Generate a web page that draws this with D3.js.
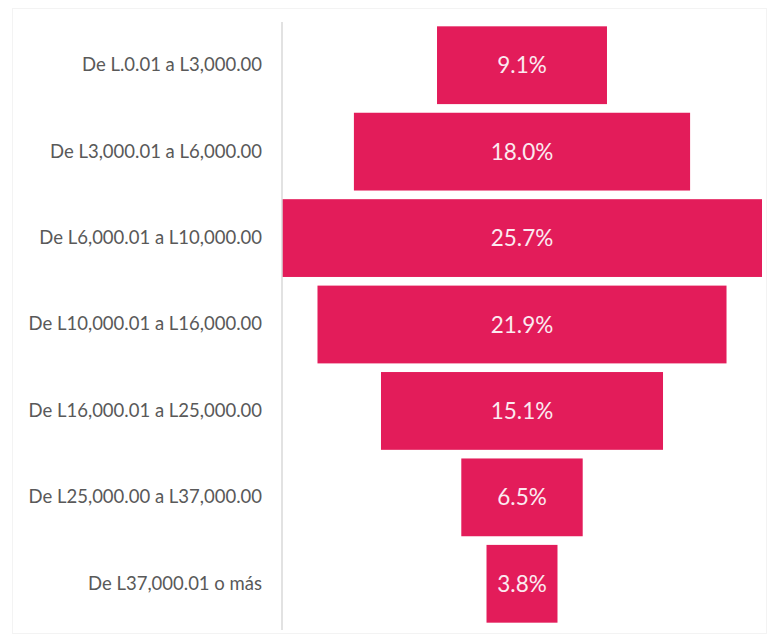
<!DOCTYPE html>
<html>
<head>
<meta charset="utf-8">
<script src="https://cdn.jsdelivr.net/npm/d3@7"></script>
<style>
  body { margin: 0; background: #fff; }
  svg { display: block; }
</style>
</head>
<body>
<div class="funnel"></div>
<script>
// categories and values
const categories = [
  "De L.0.01 a L3,000.00",
  "De L3,000.01 a L6,000.00",
  "De L6,000.01 a L10,000.00",
  "De L10,000.01 a L16,000.00",
  "De L16,000.01 a L25,000.00",
  "De L25,000.00 a L37,000.00",
  "De L37,000.01 o más"
];
const values = [9.1, 18.0, 25.7, 21.9, 15.1, 6.5, 3.8];

const width = 768,
  height = 639;
let margin = { top: 22, right: 6, bottom: 12, left: 282 };

const data = categories.map((c, i) => ({ cat: c, val: values[i] }));

let svg = d3
  .select(".funnel")
  .append("svg")
  .attr("width", width)
  .attr("height", height);

// faint frame round the chart area
svg
  .append("rect")
  .attr("x", 12.5)
  .attr("y", 8.5)
  .attr("width", width - 14)
  .attr("height", height - 14)
  .attr("fill", "none")
  .attr("stroke", "#f3f3f3");

let y = d3
  .scaleBand()
  .domain(categories)
  .range([margin.top, height - margin.bottom])
  .paddingInner(0.1)
  .paddingOuter(0.05);

const maxVal = d3.max(values);
// centered funnel: -max/2 .. max/2
let x = d3
  .scaleLinear()
  .domain([-maxVal / 2, maxVal / 2])
  .range([margin.left, width - margin.right]);

// ---- BARS ----
svg
  .selectAll(".bar")
  .data(data)
  .enter()
  .append("rect")
  .attr("class", "bar")
  .attr("x", (d) => x(-d.val / 2))
  .attr("y", (d) => y(d.cat))
  .attr("width", (d) => x(d.val / 2) - x(-d.val / 2))
  .attr("height", y.bandwidth())
  .attr("fill", "#e31c5a");

svg
  .selectAll(".val")
  .data(data)
  .enter()
  .append("text")
  .attr("class", "val")
  .attr("x", x(0))
  .attr("y", (d) => y(d.cat) + y.bandwidth() / 2)
  .attr("dy", "0.36em")
  .attr("text-anchor", "middle")
  .attr("fill", "#fbeaf0")
  .style("font-family", "Lato, 'Open Sans', sans-serif")
  .style("font-size", "22.5px")
  .text((d) => d.val.toFixed(1) + "%");

// ---- AXIS ----
let yAxis = d3.axisLeft(y).tickSize(0).tickPadding(20);
let yAxisGroup = svg
  .append("g")
  .attr("class", "y-axis")
  .attr("transform", "translate(" + margin.left + ",0)")
  .call(yAxis);

yAxisGroup.select(".domain").remove();
yAxisGroup
  .append("line")
  .attr("x1", 0)
  .attr("x2", 0)
  .attr("y1", margin.top)
  .attr("y2", height - 9)
  .attr("stroke", "#d9d9d9")
  .attr("stroke-width", 1.5);

yAxisGroup
  .selectAll(".tick text")
  .attr("fill", "#595959")
  .style("font-family", "Lato, 'Open Sans', sans-serif")
  .style("font-size", "18.5px");
</script>
</body>
</html>
